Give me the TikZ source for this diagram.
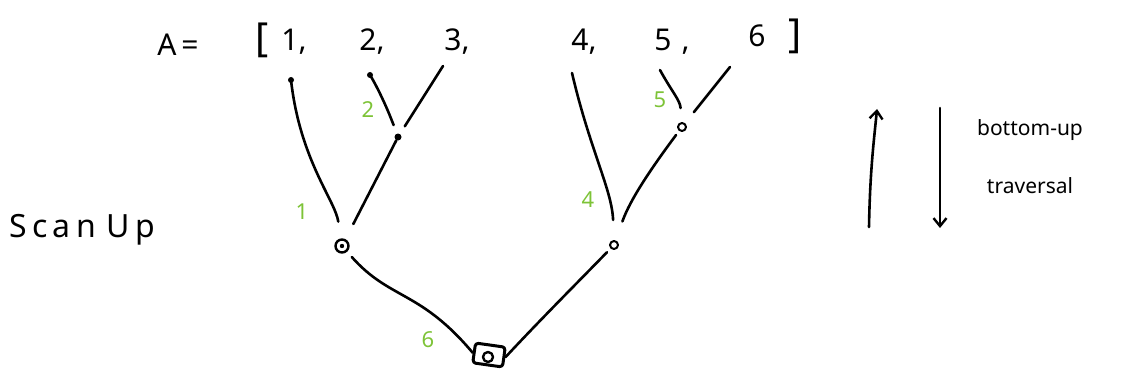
\documentclass[tikz,border=0pt]{standalone}
\usepackage{fontspec}
\setmainfont{Noto Sans}
\usetikzlibrary{arrows.meta,shapes.misc}
\definecolor{lbl}{RGB}{125,195,55}
\begin{document}
\begin{tikzpicture}[x=1pt,y=-1pt, line cap=round, line join=round,
  ink/.style={draw=black, line width=2.6pt},
  arrtxt/.style={font=\fontsize{30}{32}\selectfont, inner sep=0pt},
  brk/.style={font=\fontsize{40}{42}\selectfont, inner sep=0pt},
  num/.style={text=lbl, font=\fontsize{22}{24}\selectfont\bfseries, inner sep=0pt},
  side/.style={font=\fontsize{21}{23}\selectfont, inner sep=0pt},
  dotnode/.style={circle, fill=black, inner sep=0pt, minimum size=7pt},
  ringnode/.style={circle, draw=black, line width=2pt, fill=white, inner sep=0pt, minimum size=8pt},
  bigring/.style={circle, draw=black, line width=2.4pt, inner sep=0pt, minimum size=13pt},
  rootbox/.style={rectangle, rounded corners=3pt, draw=black, line width=3pt, minimum width=30pt, minimum height=20pt, inner sep=0pt, rotate=-8},
  tip/.style={-{Straight Barb[length=8pt,width=13pt,line width=2.4pt]}}
]
\useasboundingbox (0,0) rectangle (1131,377);

% array
\node[arrtxt] (A) at (178,45) {A\,=};
\node[brk] (lb) at (262,40) {[};
\node[arrtxt] (e1) at (294,42) {1,};
\node[arrtxt] (e2) at (372,42) {2,};
\node[arrtxt] (e3) at (457,42) {3,};
\node[arrtxt] (e4) at (584,42) {4,};
\node[arrtxt] (e5) at (672,42) {5\,\,,};
\node[arrtxt] (e6) at (757,36) {6};
\node[brk] (rb) at (795,36) {]};

% leaves
\coordinate (l1) at (291,80);
\coordinate (l2) at (370,75);
\coordinate (l3) at (443,66);
\coordinate (l4) at (572,73);
\coordinate (l5) at (660,70);
\coordinate (l6) at (730,67);
\fill (l1) circle (3pt);
\fill (l2) circle (3pt);

% internal nodes
\node[dotnode] (n23) at (398,137) {};
\node[ringnode] (n56) at (682,127) {};
\node[bigring] (n13) at (342,246) {};
\fill (n13) circle (2.2pt);
\node[ringnode] (n46) at (614,245) {};
\node[rootbox] (root) at (489,355) {};
\node[ringnode, line width=2.4pt, minimum size=10pt] (rootc) at (488,357) {};

% edges
\draw[ink, shorten >=9pt] (l2) .. controls (378,88) and (388,110) .. (n23);
\draw[ink, shorten >=9pt] (l3) -- (n23);
\draw[ink, shorten >=17pt] (l1) .. controls (300,160) and (335,200) .. (n13);
\draw[ink, shorten >=17pt] (n23) -- (n13);
\draw[ink, shorten >=14pt] (l5) .. controls (672,92) and (680,100) .. (n56);
\draw[ink, shorten >=14pt] (l6) -- (n56);
\draw[ink, shorten >=20pt] (l4) .. controls (590,150) and (612,190) .. (n46);
\draw[ink, shorten >=20pt, shorten <=5pt] (n56) .. controls (650,170) and (630,200) .. (n46);
\draw[ink, shorten <=7pt] (n13) .. controls (390,300) and (420,290) .. (root.west);
\draw[ink, shorten <=5pt] (n46) .. controls (580,280) and (540,320) .. (root.east);

% step labels
\node[num] (k1) at (302,212) {1};
\node[num] (k2) at (368,110) {2};
\node[num] (k4) at (588,200) {4};
\node[num] (k5) at (660,100) {5};
\node[num] (k6) at (428,340) {6};

% left label
\node[font=\fontsize{32}{34}\selectfont, inner sep=0pt] (scan) at (82,230) {S\,c\,a\,n\,\,U\,p};

% arrows
\coordinate (ua1) at (869,227);
\coordinate (ua2) at (877,109);
\coordinate (da1) at (940,108);
\coordinate (da2) at (940,228);
\draw[ink, tip] (ua1) .. controls (870,170) and (874,140) .. (ua2);
\draw[ink, tip] (da1) -- (da2);

\node[side] (bu) at (1030,130) {bottom-up};
\node[side] (tr) at (1030,186) {traversal};
\end{tikzpicture}
\end{document}
